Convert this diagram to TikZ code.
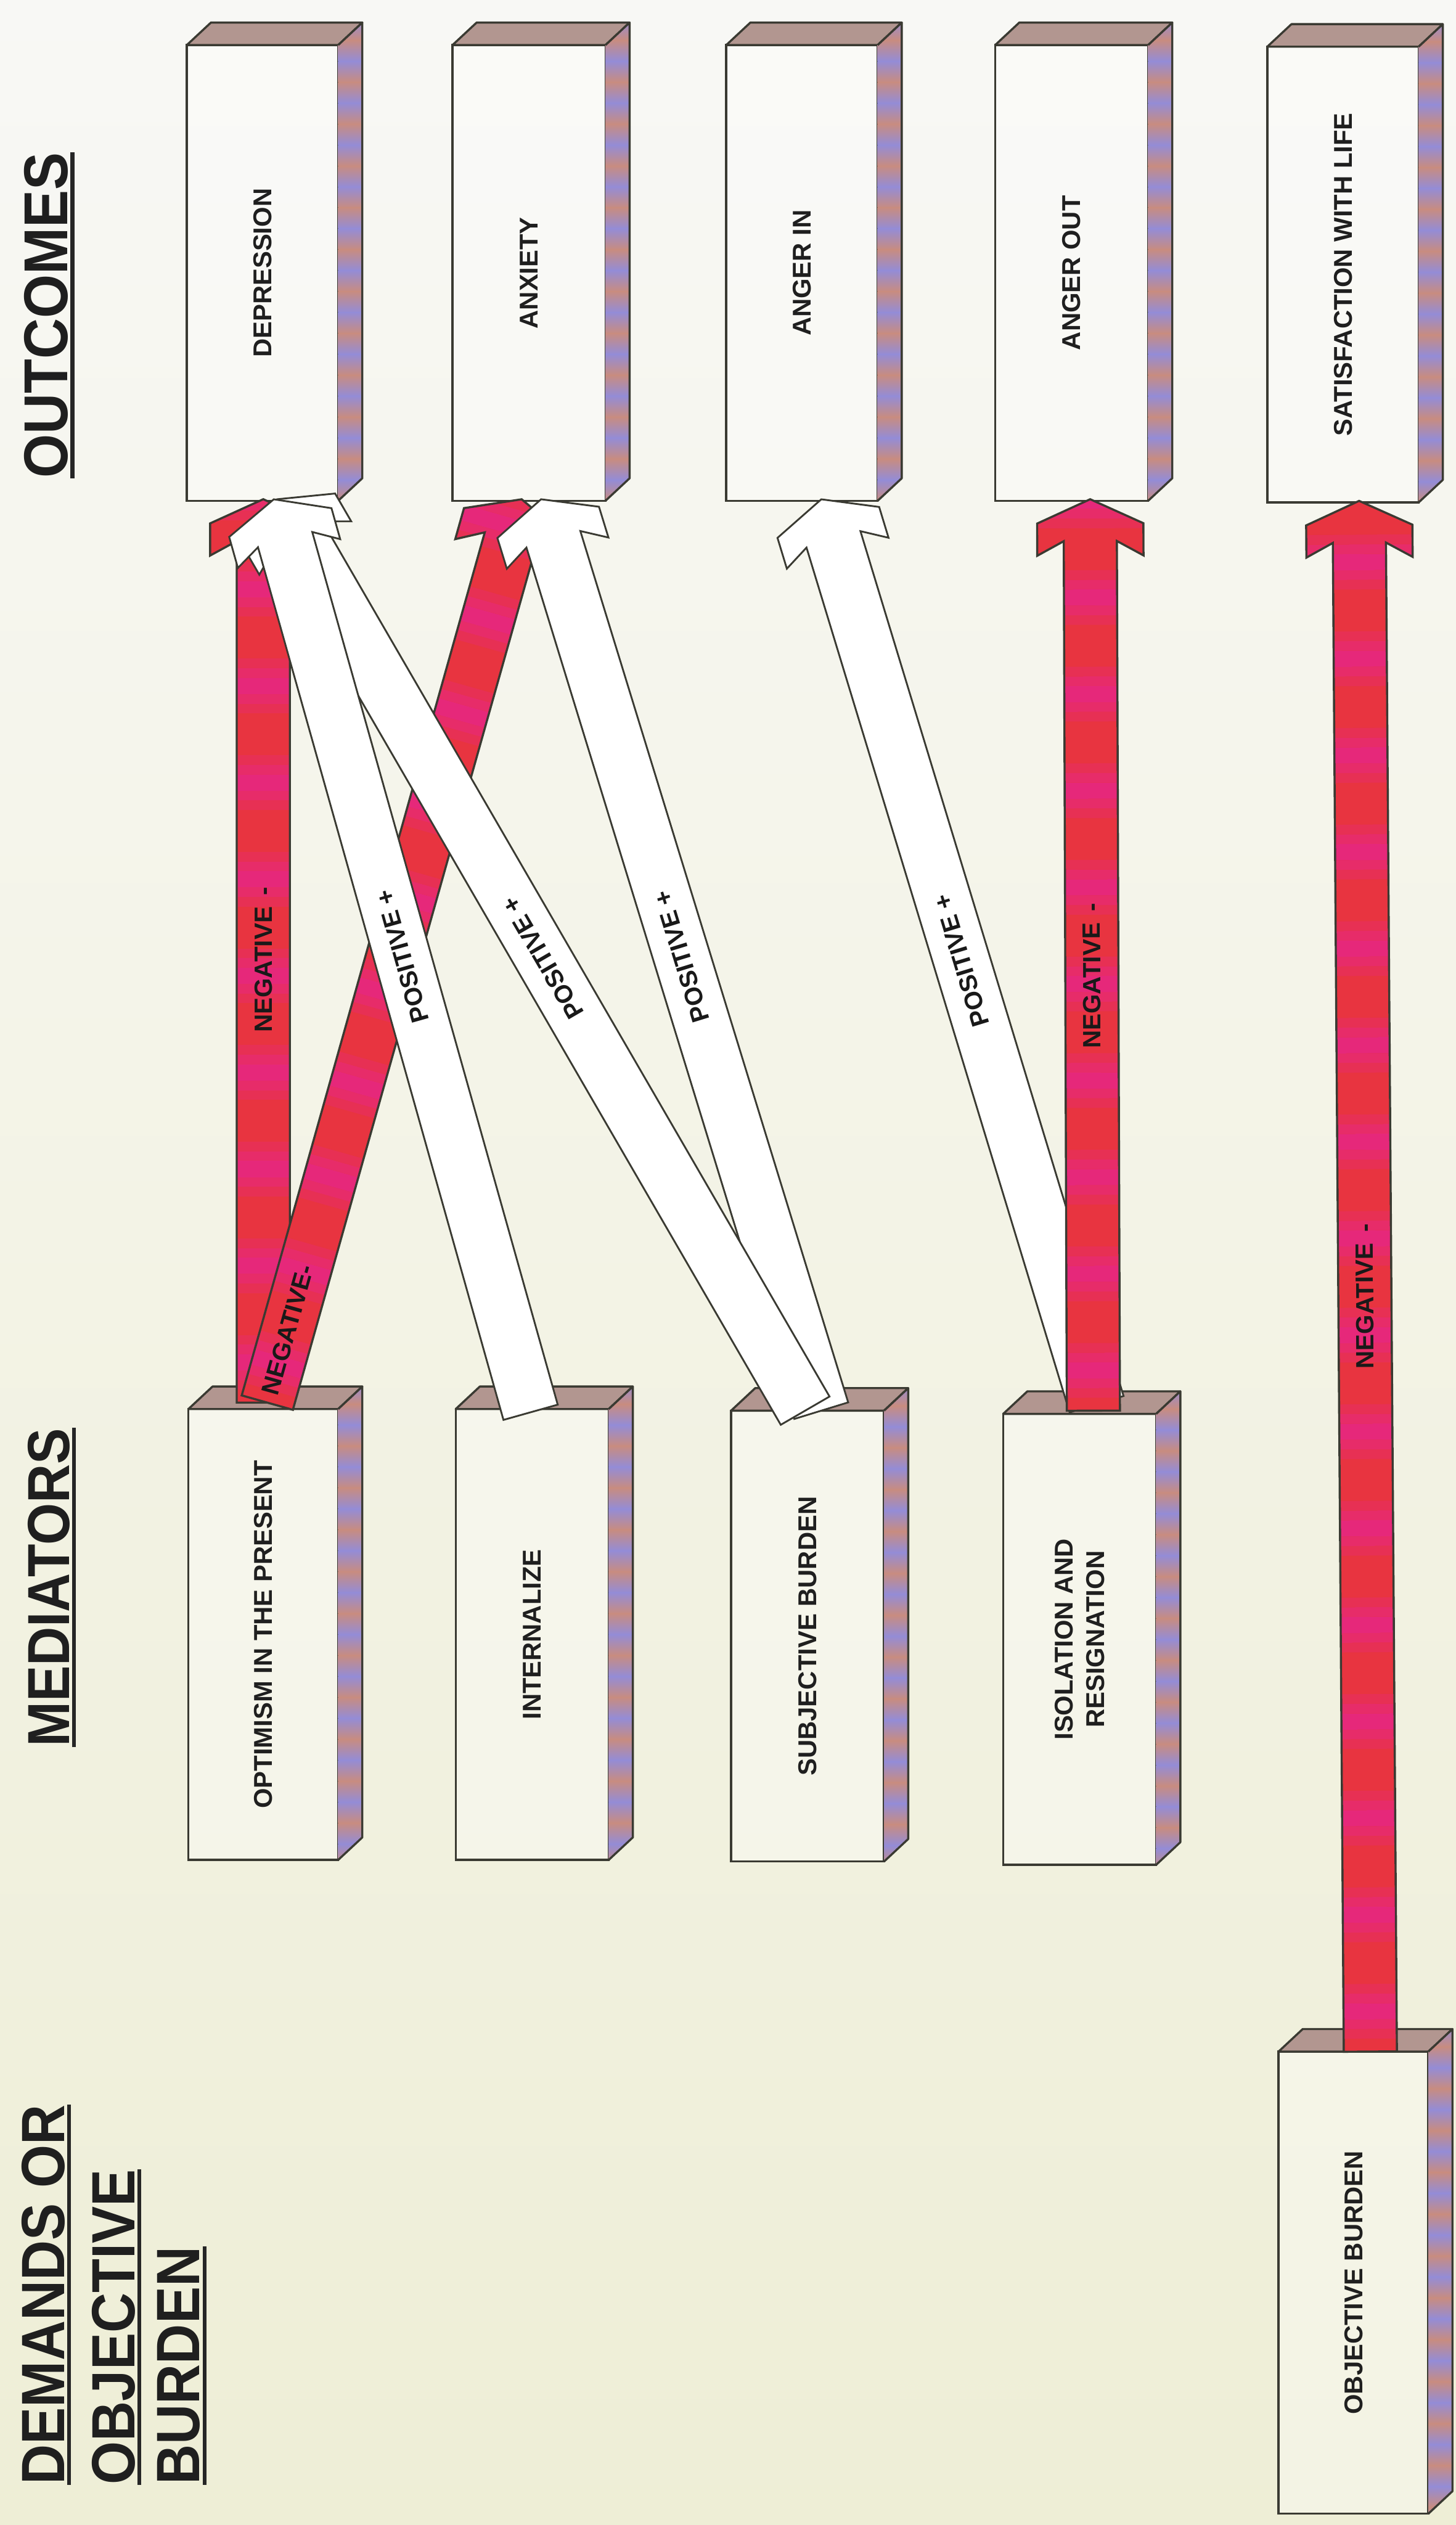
\documentclass[tikz,border=0pt]{standalone}
\usepackage{fontspec}
\setmainfont{Liberation Sans}
\usepackage{graphicx}
\usetikzlibrary{calc}
\definecolor{arred}{RGB}{232,52,64}
\definecolor{arpink}{RGB}{230,40,122}
\definecolor{lav}{RGB}{148,140,214}
\definecolor{sal}{RGB}{200,140,128}
\definecolor{topf}{RGB}{178,150,144}
\definecolor{edgec}{RGB}{58,58,50}
\definecolor{bgtop}{RGB}{248,248,245}
\definecolor{bgmid}{RGB}{245,245,236}
\definecolor{bgbot}{RGB}{238,238,214}

\newcommand\hw{16}
\newcommand\arpath{(0pt,\hw pt) -- (\La pt,\hw pt) -- (\Lb pt,33pt) -- (\Lc pt,33pt) -- (\arLen pt,0pt) -- (\Lc pt,-33pt) -- (\Lb pt,-33pt) -- (\La pt,-\hw pt) -- (0pt,-\hw pt) -- cycle}

\newcommand\arrowsetup[3]{%
  \path let \p1=(#1), \p2=(#2) in \pgfextra{%
    \pgfmathsetmacro\tmpa{atan2((\y2)-(\y1),(\x2)-(\x1))}\global\let\arAng\tmpa
    \pgfmathsetmacro\tmpl{veclen((\x2)-(\x1),(\y2)-(\y1))}\global\let\arLen\tmpl};
  \pgfmathsetmacro\La{\arLen-26}\pgfmathsetmacro\Lb{\arLen-35}\pgfmathsetmacro\Lc{\arLen-15}%
  \renewcommand\hw{#3}}

% #1 tail, #2 tip, #3 label distance, #4 label, #5 half width
\newcommand\redarrow[5]{%
  \arrowsetup{#1}{#2}{#5}%
  \begin{scope}[shift={(#1)}, rotate=\arAng]
    \fill[arred] \arpath;
    \begin{scope}
      \clip \arpath;
      \foreach \k in {0,...,16}{%
        \fill[arpink!35!arred] ({\k*60pt+8pt},-40pt) rectangle ({\k*60pt+14pt},40pt);
        \fill[arpink!70!arred] ({\k*60pt+14pt},-40pt) rectangle ({\k*60pt+20pt},40pt);
        \fill[arpink] ({\k*60pt+20pt},-40pt) rectangle ({\k*60pt+30pt},40pt);
        \fill[arpink!70!arred] ({\k*60pt+30pt},-40pt) rectangle ({\k*60pt+36pt},40pt);
        \fill[arpink!35!arred] ({\k*60pt+36pt},-40pt) rectangle ({\k*60pt+42pt},40pt);
      }
    \end{scope}
    \draw[edgec, line width=1.3pt, line join=miter] \arpath;
    \node[arlabel, transform shape] at (#3pt,0pt) {#4};
  \end{scope}}

\newcommand\whitearrow[5]{%
  \arrowsetup{#1}{#2}{#5}%
  \begin{scope}[shift={(#1)}, rotate=\arAng]
    \filldraw[fill=white, draw=edgec, line width=1.1pt, line join=miter] \arpath;
    \node[arlabel, transform shape] at (#3pt,0pt) {#4};
  \end{scope}}

% #1 name, #2 left, #3 top, #4 right, #5 bottom, #6 label
\newcommand\cubebox[6]{%
  \node[frontface, minimum width={(#4-#2)*1pt}, minimum height={(#5-#3)*1pt}] (#1) at ({(#2+#4)/2},{(#3+#5)/2}) {};
  \filldraw[fill=topf, draw=edgec, line width=1.3pt, line join=round] (#1.north west) -- ++(15,-14) -- ($(#1.north east)+(15,-14)$) -- (#1.north east) -- cycle;
  \begin{scope}
    \clip (#1.north east) -- ++(15,-14) -- ($(#1.south east)+(15,-14)$) -- (#1.south east) -- cycle;
    \foreach \k in {0,...,12}{%
      \shade[top color=lav, bottom color=sal] (#4-1,#3-16+\k*26) rectangle (#4+17,#3-3+\k*26);
      \shade[top color=sal, bottom color=lav] (#4-1,#3-3+\k*26) rectangle (#4+17,#3+10+\k*26);
    }
  \end{scope}
  \draw[edgec, line width=1.3pt, line join=round] (#1.north east) -- ++(15,-14) -- ($(#1.south east)+(15,-14)$) -- (#1.south east);
  \node[boxlabel] (#1-text) at (#1.center) {#6};
}

\begin{document}
\begin{tikzpicture}[x=1pt,y=-1pt,
  frontface/.style={draw=edgec, line width=1.3pt, fill=white, fill opacity=0.35, text opacity=1, inner sep=0pt, outer sep=0pt},
  boxlabel/.style={rotate=90, font=\bfseries\fontsize{16}{19.5}\selectfont, align=center, inner sep=0pt, text=black!88},
  heading/.style={rotate=90, anchor=base west, inner sep=0pt, text=black!88},
  ulin/.style={line width=2.4pt, black!85},
  arlabel/.style={font=\bfseries\fontsize{15.5}{18}\selectfont, inner sep=0pt, text=black!90}]

\useasboundingbox (0,0) rectangle (904,1568);
\shade[top color=bgtop, middle color=bgmid, bottom color=bgbot] (0,0) rectangle (904,1568);

% headings
\node[heading, font=\bfseries\fontsize{35}{40}\selectfont] (hout) at (42,297) {\scalebox{1}[1.1]{OUTCOMES}};
\draw[ulin] ([xshift=3pt]hout.base west) -- ([xshift=3pt]hout.base east);
\node[heading, font=\bfseries\fontsize{33.5}{40}\selectfont] (hmed) at (43,1085) {\scalebox{1}[1.1]{MEDIATORS}};
\draw[ulin] ([xshift=3pt]hmed.base west) -- ([xshift=3pt]hmed.base east);
\node[heading, font=\bfseries\fontsize{34.5}{40}\selectfont] (hdem1) at (40,1543) {\scalebox{1}[1.1]{DEMANDS OR}};
\draw[ulin] ([xshift=3pt]hdem1.base west) -- ([xshift=3pt]hdem1.base east);
\node[heading, font=\bfseries\fontsize{34.5}{40}\selectfont] (hdem2) at (83.5,1543) {\scalebox{1}[1.1]{OBJECTIVE}};
\draw[ulin] ([xshift=3pt]hdem2.base west) -- ([xshift=3pt]hdem2.base east);
\node[heading, font=\bfseries\fontsize{34.5}{40}\selectfont] (hdem3) at (124,1543) {\scalebox{1}[1.1]{BURDEN}};
\draw[ulin] ([xshift=3pt]hdem3.base west) -- ([xshift=3pt]hdem3.base east);

% outcome boxes
\cubebox{dep}{116}{28}{210}{311}{DEPRESSION}
\cubebox{anx}{281}{28}{376}{311}{ANXIETY}
\cubebox{angin}{451}{28}{545}{311}{ANGER IN}
\cubebox{angout}{618}{28}{713}{311}{ANGER OUT}
\cubebox{sat}{787}{29}{881}{312}{SATISFACTION WITH LIFE}
% mediator boxes
\cubebox{opt}{117}{875}{210}{1155}{OPTIMISM IN THE PRESENT}
\cubebox{intl}{283}{875}{378}{1155}{INTERNALIZE}
\cubebox{subj}{454}{876}{549}{1156}{SUBJECTIVE BURDEN}
\cubebox{iso}{623}{878}{718}{1158}{ISOLATION AND\\RESIGNATION}
% demand box
\cubebox{obj}{794}{1274}{887}{1561}{OBJECTIVE BURDEN}

% arrow end points
\coordinate (r1t) at ($(opt.north)+(0,-4)$);
\coordinate (r1h) at ($(dep.south)+(0.5,-1)$);
\coordinate (r2t) at ($(opt.north)+(2.5,-4)$);
\coordinate (r2h) at ($(anx.south)+(-4.5,-1)$);
\coordinate (w1t) at ($(intl.north)+(-1,2)$);
\coordinate (w1h) at ($(dep.south)+(7,-1)$);
\coordinate (w2t) at ($(subj.north)+(-1.5,0)$);
\coordinate (w2h) at ($(dep.south)+(9,-1)$);
\coordinate (w3t) at ($(subj.north)+(8.5,0)$);
\coordinate (w3h) at ($(anx.south)+(7.5,-1)$);
\coordinate (w4t) at ($(iso.north)+(10.5,-6)$);
\coordinate (w4h) at ($(angin.south)+(12,-1)$);
\coordinate (r3t) at ($(iso.north)+(8.5,-2)$);
\coordinate (r3h) at ($(angout.south)+(11.5,-1)$);
\coordinate (r4t) at ($(obj.north)+(10.5,0)$);
\coordinate (r4h) at ($(sat.south)+(10,-1)$);

% arrows
\redarrow{r1t}{r1h}{275}{NEGATIVE\hspace{0.45em}-}{16.5}
\redarrow{r2t}{r2h}{47}{NEGATIVE-}{16.5}
\whitearrow{w3t}{w3h}{295}{POSITIVE +}{17.5}
\whitearrow{w2t}{w2h}{325}{POSITIVE +}{17.5}
\whitearrow{w1t}{w1h}{294}{POSITIVE +}{17.5}
\whitearrow{w4t}{w4h}{288}{POSITIVE +}{17.5}
\redarrow{r3t}{r3h}{270}{NEGATIVE\hspace{0.45em}-}{16.5}
\redarrow{r4t}{r4h}{469}{NEGATIVE\hspace{0.45em}-}{16.5}

\end{tikzpicture}
\end{document}
